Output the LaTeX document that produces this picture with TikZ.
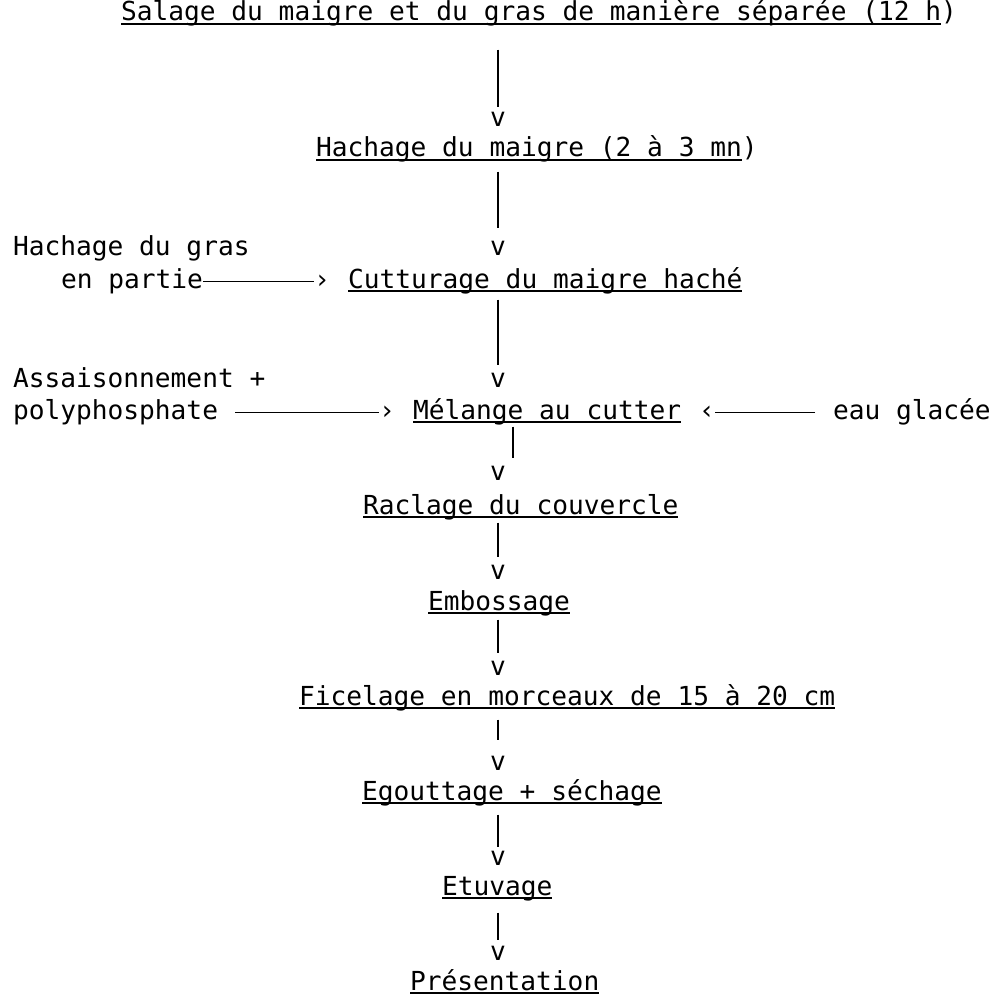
\documentclass[tikz,border=0pt]{standalone}
\usepackage{fontspec}
\usepackage{tikz}
\usetikzlibrary{positioning, arrows.meta, calc}
\newfontfamily\machine{DejaVu Sans Mono}
\newcommand{\souligne}[1]{\setbox0\hbox{#1}\rlap{\rule[-2pt]{\wd0}{0.85pt}}\box0}
\tikzset{
    etape/.style={anchor=base west, inner sep=0pt, outer sep=0pt, font=\machine\fontsize{13.1}{15}\selectfont},
    apport/.style={anchor=base west, inner sep=0pt, outer sep=0pt, font=\machine\fontsize{13.1}{15}\selectfont},
    pointe/.style={anchor=base, inner sep=0pt, outer sep=0pt, font=\machine\fontsize{13.1}{15}\selectfont},
    fil/.style={line width=0.8pt, shorten <=3pt, shorten >=4pt}
}

\begin{document}
\begin{tikzpicture}[
        x=0.5pt, y=-0.5pt,
        filh/.style={line width=0.7pt}
    ]
        \useasboundingbox (0,0) rectangle (998,1000);

        \node[etape] (salage) at (121,21) {\souligne{Salage du maigre et du gras de manière séparée (12 h})};
        \node[pointe] (v1) at (498,127) {v};
        \node[etape] (hachemaigre) at (316,157) {\souligne{Hachage du maigre (2 à 3 mn})};
        \node[pointe] (v2) at (498,256) {v};
        \node[apport] (hachegras) at (13,256) {Hachage du gras};
        \node[apport] (partie) at (61,288) {en partie};
        \node[pointe] (c1) at (322,288) {›};
        \node[etape] (cutturage) at (348,288) {\souligne{Cutturage du maigre haché}};
        \node[pointe] (v3) at (498,387) {v};
        \node[apport] (assais) at (13,387) {Assaisonnement +};
        \node[apport] (polyphos) at (13,419) {polyphosphate};
        \node[pointe] (c2) at (387,419) {›};
        \node[etape] (melange) at (413,419) {\souligne{Mélange au cutter}};
        \node[pointe] (c3) at (707,419) {‹};
        \node[apport] (eau) at (833,419) {eau glacée};
        \node[pointe] (v4) at (498,480) {v};
        \node[etape] (raclage) at (363,514) {\souligne{Raclage du couvercle}};
        \node[pointe] (v5) at (498,579) {v};
        \node[etape] (embossage) at (428,610) {\souligne{Embossage}};
        \node[pointe] (v6) at (498,675) {v};
        \node[etape] (ficelage) at (299,705) {\souligne{Ficelage en morceaux de 15 à 20 cm}};
        \node[pointe] (v7) at (498,770) {v};
        \node[etape] (egouttage) at (362,800) {\souligne{Egouttage + séchage}};
        \node[pointe] (v8) at (498,865) {v};
        \node[etape] (etuvage) at (442,895) {\souligne{Etuvage}};
        \node[pointe] (v9) at (498,960) {v};
        \node[etape] (presentation) at (410,990) {\souligne{Présentation}};

        \draw[fil, shorten <=11.5pt, shorten >=3pt] (v1 |- salage.south) -- (v1.north);
        \draw[fil, shorten <=4.5pt, shorten >=7pt] (v2 |- hachemaigre.south) -- (v2.north);
        \draw[filh] (c1 -| partie.east) -- (c1.west);
        \draw[fil] (v3 |- cutturage.south) -- (v3.north);
        \draw[filh, shorten <=8.5pt] (c2 -| polyphos.east) -- (c2.west);
        \draw[filh, shorten <=9pt] (c3 -| eau.west) -- (c3.east);
        \draw[fil, shorten <=1pt] ([xshift=7.5pt]v4 |- melange.south) -- ([xshift=7.5pt]v4.north);
        \draw[fil, shorten <=1.5pt] (v5 |- raclage.south) -- (v5.north);
        \draw[fil, shorten <=2pt] (v6 |- embossage.south) -- (v6.north);
        \draw[fil, shorten <=4.5pt, shorten >=8pt] (v7 |- ficelage.south) -- (v7.north);
        \draw[fil, shorten <=4.5pt, shorten >=2pt] (v8 |- egouttage.south) -- (v8.north);
        \draw[fil, shorten <=6pt, shorten >=3pt] (v9 |- etuvage.south) -- (v9.north);
    \end{tikzpicture}
\end{document}
